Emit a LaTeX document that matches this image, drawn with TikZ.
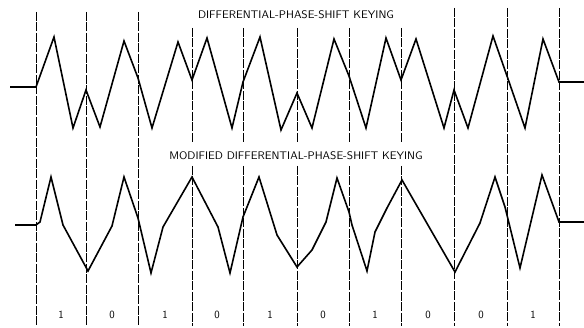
\documentclass[tikz,border=0pt]{standalone}
\usepackage{tikz}
\usetikzlibrary{positioning}

\begin{document}
\begin{tikzpicture}[
 x=1pt,y=-1pt,
 wave/.style={line width=1.6pt,line join=miter,line cap=butt},
 guide/.style={line width=0.7pt,dash pattern=on 9pt off 1.5pt},
 ttl/.style={font=\sffamily\fontsize{11}{12}\selectfont,inner sep=0pt,xscale=1.05},
 bitlbl/.style={font=\sffamily\fontsize{11}{12}\selectfont,inner sep=0pt}
]
\useasboundingbox (0,0) rectangle (584,328);

% bit boundaries
\foreach \bx in {36,86,138} \draw[guide] (\bx,12) -- (\bx,326);
\foreach \bx in {192,243,297,349,401} {
 \draw[guide] (\bx,28) -- (\bx,143);
 \draw[guide] (\bx,166) -- (\bx,326);
}
\foreach \bx in {454,507,559} \draw[guide] (\bx,8) -- (\bx,326);

% titles
\node[ttl] (dpsk) at (296,15) {DIFFERENTIAL-PHASE-SHIFT KEYING};
\node[ttl] (mdpsk) at (296,156) {MODIFIED DIFFERENTIAL-PHASE-SHIFT KEYING};

% DPSK waveform
\draw[wave] (10,87) -- (36,87) -- (54,37) -- (73,128) -- (86,90) -- (100,127) -- (124,41) -- (138,78)
 -- (152,128) -- (178,42) -- (192,80) -- (207,38) -- (232,128) -- (243,82) -- (260,37) -- (281,130)
 -- (297,93) -- (312,128) -- (334,39) -- (349,76) -- (366,128) -- (386,38) -- (401,80) -- (416,39)
 -- (444,128) -- (454,90) -- (468,128) -- (493,36) -- (507,76) -- (525,128) -- (543,39) -- (559,82) -- (584,82);

% modified DPSK waveform
\draw[wave] (15,225) -- (36,225) -- (40,222) -- (51,177) -- (63,225) -- (88,271) -- (112,226) -- (124,177)
 -- (138,218) -- (151,273) -- (163,227) -- (192,177) -- (218,227) -- (230,273) -- (243,217) -- (259,177)
 -- (277,235) -- (297,267) -- (312,250) -- (326,222) -- (337,178) -- (349,212) -- (352,225) -- (367,271)
 -- (375,232) -- (387,208) -- (402,180) -- (455,272) -- (480,223) -- (495,177) -- (505,207) -- (520,268)
 -- (542,175) -- (559,222) -- (584,222);

% bit values
\foreach \bx/\bv [count=\i] in {61/1,112/0,165/1,217/0,270/1,323/0,375/1,428/0,481/0,533/1}
 \node[bitlbl] (bit\i) at (\bx,315) {\bv};
\end{tikzpicture}
\end{document}
